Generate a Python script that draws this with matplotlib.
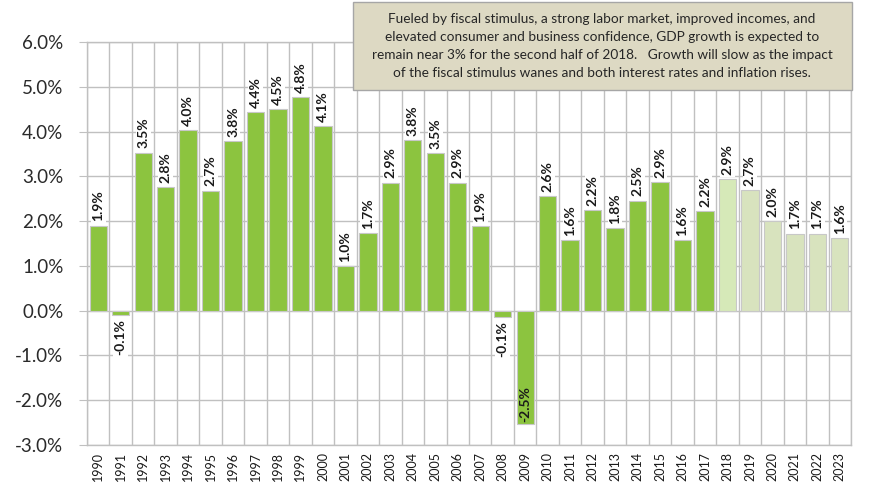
import numpy as np
import matplotlib.pyplot as plt
from matplotlib.patches import Rectangle

# GDP growth, %, actual up to 2017 and forecast from 2018
years = list(range(1990, 2024))
growth = [1.9, -0.1, 3.53, 2.76, 4.04, 2.68, 3.79, 4.44, 4.5, 4.77,
          4.13, 1.0, 1.74, 2.86, 3.81, 3.52, 2.86, 1.88, -0.14, -2.54,
          2.56, 1.57, 2.24, 1.84, 2.46, 2.88, 1.57, 2.22,
          2.93, 2.7, 2.0, 1.72, 1.72, 1.62]
first_forecast = 2018

note = ("Fueled by fiscal stimulus, a strong labor market, improved incomes, and\n"
        "elevated consumer and business confidence, GDP growth is expected to\n"
        "remain near 3% for the second half of 2018.   Growth will slow as the impact\n"
        "of the fiscal stimulus wanes and both interest rates and inflation rises.")

plt.rcParams['font.family'] = ['Lato', 'DejaVu Sans']

colors = []
for y in years:
    if y < first_forecast:
        colors.append('#8CC43F')
    elif y == first_forecast:
        colors.append('#D6E9B8')
    else:
        colors.append('#D8E3BE')

fig = plt.figure(figsize=(8.83, 4.93), dpi=100)
ax = fig.add_axes([0.0985, 0.0974, 0.8653, 0.8174])

x = np.arange(len(years))
bars = ax.bar(x, growth, width=0.77, color=colors, edgecolor='#C8C8C8',
              linewidth=0.8, zorder=3)

lab_kw = dict(rotation=90, ha='center', fontsize=10, fontweight='bold',
              color='#1A1A1A', zorder=5, textcoords='offset points')
for xi, v in zip(x, growth):
    lab = '%.1f%%' % v
    if v < -1:
        # big negative bar: label sits inside the bar end
        ax.annotate(lab, (xi, v), xytext=(0, 2), va='bottom', **lab_kw)
    elif v < 0:
        ax.annotate(lab, (xi, v), xytext=(0, -3), va='top',
                    bbox=dict(boxstyle='square,pad=0.1', fc='white', ec='none'),
                    **lab_kw)
    else:
        ax.annotate(lab, (xi, v), xytext=(0, 3), va='bottom',
                    bbox=dict(boxstyle='square,pad=0.1', fc='white', ec='none'),
                    **lab_kw)

ax.set_xlim(-0.5, len(years) - 0.5)
ax.set_ylim(-3, 6)
ax.set_yticks(np.arange(-3, 7, 1))
ax.set_yticklabels(['%.1f%%' % t for t in np.arange(-3, 7, 1)])
ax.set_xticks(x)
ax.set_xticklabels([str(y) for y in years], rotation=90)

# vertical grid between categories
ax.set_xticks(np.arange(-0.5, len(years), 1), minor=True)
ax.grid(True, which='minor', axis='x', color='#C0C0C0', linewidth=1, zorder=0)
ax.grid(True, which='major', axis='y', color='#C0C0C0', linewidth=1, zorder=0)
ax.tick_params(axis='x', which='both', length=0, pad=5, labelsize=9, colors='#1A1A1A')
ax.tick_params(axis='y', length=6, pad=11, labelsize=13.5, color='#C0C0C0',
               labelcolor='#2A2A2A')
for s in ax.spines.values():
    s.set_color('#C0C0C0')
    s.set_linewidth(1)

# note box
fig.patches.append(Rectangle((353 / 883, 1 - 90 / 493), 499 / 883, 88 / 493,
                             transform=fig.transFigure, facecolor='#DDD9C3',
                             edgecolor='#A6A6A6', linewidth=1, zorder=10))
fig.text(602 / 883, 1 - 46 / 493, note, ha='center', va='center', fontsize=9.8,
         color='#262626', linespacing=1.6, zorder=11)

fig.savefig('out.png', dpi=100)
